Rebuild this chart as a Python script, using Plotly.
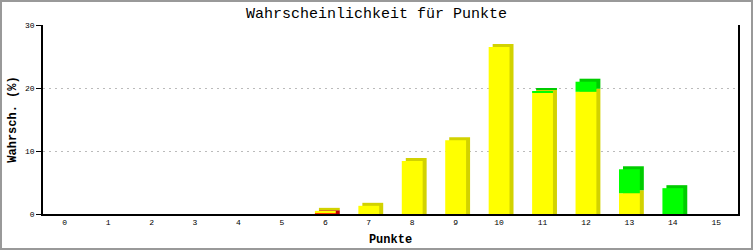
import plotly.graph_objects as go

categories = list(range(16))
red_vals    = [0, 0, 0, 0, 0, 0, 0.12, 0, 0, 0, 0, 0, 0, 0, 0, 0]
yellow_vals = [0, 0, 0, 0, 0, 0, 0.38, 1.3, 8.4, 11.7, 26.5, 19.25, 19.4, 3.3, 0, 0]
green_vals  = [0, 0, 0, 0, 0, 0, 0, 0, 0, 0, 0, 0.2, 1.6, 3.8, 4.1, 0]
tick_labels = [str(c) for c in categories]

W, H = 753, 250
ML, MR, MT, MB = 43, 15, 25, 36
PW, PH = W - ML - MR, H - MT - MB
YMAX = 30
bar_w = 0.48
dx = 4 / (PW / 16)       # depth offset in category units
dy = 3 * YMAX / PH       # depth offset in value units

series = [
    ("red", red_vals, "#FF0000", "#C00000"),
    ("yellow", yellow_vals, "#FFFF00", "#D2D200"),
    ("green", green_vals, "#00FF00", "#00CC00"),
]

fig = go.Figure()
front = []
shadow = []
cum = [0.0] * len(categories)
for name, vals, col, dark in series:
    xs, ys, bs, sys_, sbs = [], [], [], [], []
    for i, v in enumerate(vals):
        if v > 0:
            xs.append(categories[i])
            ys.append(v)
            bs.append(cum[i])
            sb = 0 if cum[i] == 0 else cum[i] + dy
            sbs.append(sb)
            sys_.append(cum[i] + v + dy - sb)
    for i, v in enumerate(vals):
        cum[i] += v
    shadow.append(go.Bar(x=xs, y=sys_, base=sbs, width=bar_w, offset=-bar_w / 2 + dx,
                         marker=dict(color=dark, line=dict(width=0)), hoverinfo="skip",
                         showlegend=False))
    front.append(go.Bar(x=xs, y=ys, base=bs, width=bar_w, offset=-bar_w / 2,
                        marker=dict(color=col, line=dict(width=0)), name=name,
                        showlegend=False))

for t in shadow:
    fig.add_trace(t)
for t in front:
    fig.add_trace(t)

mono = "Liberation Mono"
fig.update_layout(
    width=W, height=H,
    margin=dict(l=ML, r=MR, t=MT, b=MB, autoexpand=False),
    barmode="overlay",
    plot_bgcolor="white", paper_bgcolor="white",
    title=dict(text="Wahrscheinlichkeit für Punkte", x=0.5, xanchor="center",
               y=1 - 13 / H, yanchor="middle",
               font=dict(family=mono, size=15, color="black")),
    xaxis=dict(range=[-0.5, 15.5], tickmode="array", tickvals=categories, ticktext=tick_labels,
               showgrid=False, zeroline=False, showline=True, linecolor="black", linewidth=1.5,
               ticks="", ticklen=0, automargin=False,
               tickfont=dict(family=mono, size=8, color="black"),
               title=dict(text="<b>Punkte</b>", font=dict(family=mono, size=12, color="black"),
                          standoff=8)),
    yaxis=dict(range=[0, YMAX], tickvals=[0, 10, 20, 30], showgrid=True, gridcolor="#BBBBBB",
               griddash="2px,4px", gridwidth=1, zeroline=False, showline=True, linecolor="black",
               linewidth=1.5, mirror=True, ticks="outside", ticklen=5, tickcolor="black",
               automargin=False,
               tickfont=dict(family=mono, size=8, color="black"),
               title=dict(text="<b>Wahrsch. (%)</b>", font=dict(family=mono, size=12, color="black"),
                          standoff=6)),
)

fig.add_shape(type="rect", xref="paper", yref="paper",
              x0=-(ML - 1) / PW, x1=1 + (MR - 1) / PW,
              y0=-(MB - 1) / PH, y1=1 + (MT - 1) / PH,
              line=dict(color="#999999", width=2), fillcolor="rgba(0,0,0,0)", layer="below")

fig.write_html("out.html")
